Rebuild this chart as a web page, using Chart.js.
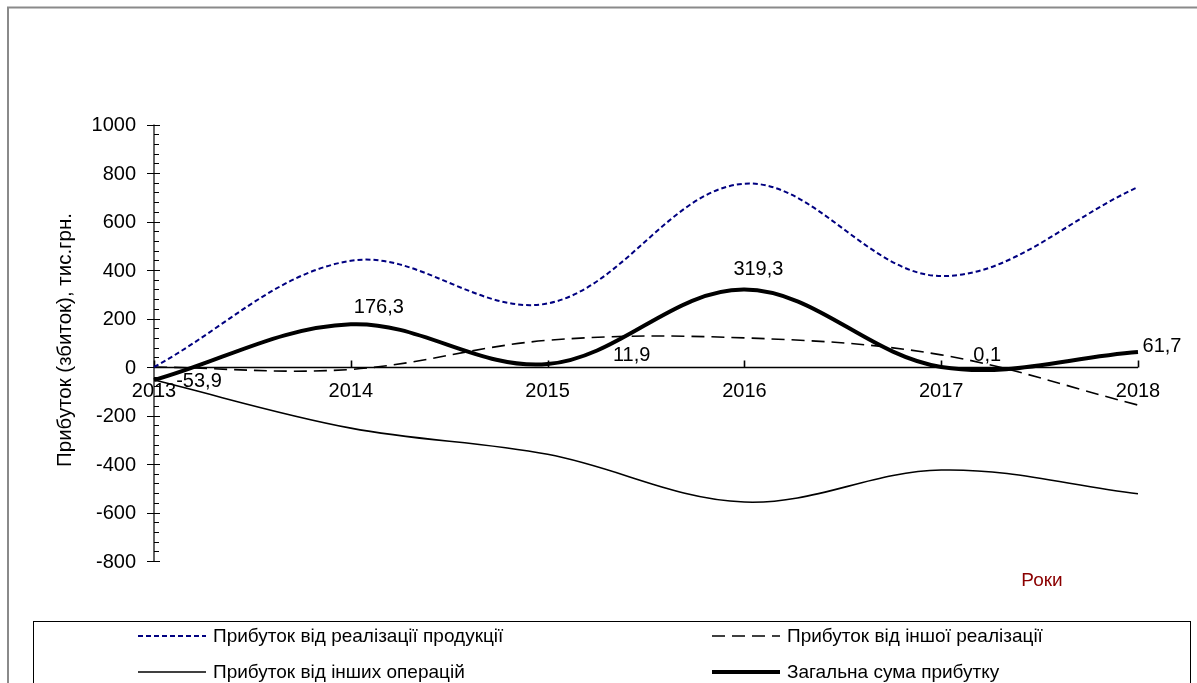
<!DOCTYPE html>
<html>
<head>
<meta charset="utf-8">
<script src="https://cdn.jsdelivr.net/npm/chart.js@4/dist/chart.umd.min.js"></script>
<style>
  html, body { margin: 0; padding: 0; background: #fff; }
  #wrap { width: 1197px; height: 683px; position: relative; }
</style>
</head>
<body>
<div id="wrap"><canvas id="c" width="1197" height="683"></canvas></div>
<script>
// Роки
const years = ['2013', '2014', '2015', '2016', '2017', '2018'];

// Прибуток за джерелами, тис. грн.
const salesProfit = [0, 438, 262, 756, 375, 742];
const otherSalesProfit = [0, -10, 110, 120, 50, -157];
const otherOpsProfit = [-53.9, -252, -360, -557, -425, -523];
const totalProfit = [-53.9, 176.3, 11.9, 319.3, 0.1, 61.7];

// Шкала осі Y
const yMin = -800, yMax = 1000, yStep = 200;

// Зсув підписів значень загальної суми відносно точок (px)
const labelShift = [[45, 1], [28, -17], [84, -9], [14, -20], [46, -11], [24, -6]];

const FONT = '"Liberation Sans", Arial, sans-serif';
const fmt = v => String(v).replace('.', ',');

const seriesStyle = [
  { color: '#000080', width: 2, dash: [5, 3] },
  { color: '#000000', width: 1.6, dash: [13, 7] },
  { color: '#000000', width: 1.6, dash: [] },
  { color: '#000000', width: 4, dash: [] }
];

const decor = {
  id: 'decor',
  beforeDatasetsDraw(chart) {
    const ctx = chart.ctx;
    const y = chart.scales.y, x = chart.scales.x;
    const a = chart.chartArea;
    ctx.save();

    // зовнішня рамка
    ctx.strokeStyle = '#8a8a8a';
    ctx.lineWidth = 2;
    ctx.beginPath();
    ctx.moveTo(8, 690); ctx.lineTo(8, 7.5); ctx.lineTo(1200, 7.5);
    ctx.stroke();

    // вісь Y
    ctx.strokeStyle = '#000';
    ctx.lineWidth = 1.2;
    ctx.beginPath();
    ctx.moveTo(a.left, a.top); ctx.lineTo(a.left, a.bottom);
    for (let v = yMin; v <= yMax; v += yStep / 5) {
      const py = Math.round(y.getPixelForValue(v)) + 0.5;
      if ((v - yMin) % yStep === 0) {
        ctx.moveTo(a.left - 7, py); ctx.lineTo(a.left + 6, py);
      } else {
        ctx.moveTo(a.left, py); ctx.lineTo(a.left + 5, py);
      }
    }
    ctx.stroke();

    ctx.fillStyle = '#000';
    ctx.font = '20px ' + FONT;
    ctx.textAlign = 'right';
    ctx.textBaseline = 'middle';
    for (let v = yMin; v <= yMax; v += yStep) {
      ctx.fillText(String(v), a.left - 18, y.getPixelForValue(v) + 1);
    }

    // вісь X на рівні нуля
    const y0 = Math.round(y.getPixelForValue(0)) + 0.5;
    ctx.lineWidth = 1.6;
    ctx.beginPath();
    ctx.moveTo(a.left, y0); ctx.lineTo(a.right, y0);
    years.forEach((yr, i) => {
      const px = Math.round(x.getPixelForValue(i)) + 0.5;
      ctx.moveTo(px, y0); ctx.lineTo(px, y0 - 7);
    });
    ctx.stroke();

    ctx.textAlign = 'center';
    years.forEach((yr, i) => {
      ctx.fillText(yr, x.getPixelForValue(i), y0 + 24);
    });

    // назва осі Y
    ctx.save();
    ctx.translate(65, 340);
    ctx.rotate(-Math.PI / 2);
    ctx.font = '20.5px ' + FONT;
    ctx.fillText('Прибуток (збиток), тис.грн.', 0, 0);
    ctx.restore();

    // назва осі X
    ctx.fillStyle = '#8b0000';
    ctx.font = '19px ' + FONT;
    ctx.fillText('Роки', 1042, 581);
    ctx.restore();
  },
  afterDatasetsDraw(chart) {
    const ctx = chart.ctx;
    const meta = chart.getDatasetMeta(3);
    ctx.save();
    ctx.fillStyle = '#000';
    ctx.font = '20px ' + FONT;
    ctx.textAlign = 'center';
    ctx.textBaseline = 'middle';
    meta.data.forEach((pt, i) => {
      const s = labelShift[i];
      ctx.fillText(fmt(totalProfit[i]), pt.x + s[0], pt.y + s[1]);
    });

    // легенда
    ctx.strokeStyle = '#000';
    ctx.lineWidth = 1;
    ctx.strokeRect(33.5, 621.5, 1157, 80);
    const slots = [[138, 636], [712, 636], [138, 672], [712, 672]];
    ctx.font = '19px ' + FONT;
    ctx.textAlign = 'left';
    chart.data.datasets.forEach((ds, di) => {
      const st = seriesStyle[di];
      const [sx, sy] = slots[di];
      ctx.save();
      ctx.strokeStyle = st.color;
      ctx.lineWidth = st.width;
      ctx.setLineDash(st.dash);
      ctx.beginPath();
      ctx.moveTo(sx, sy); ctx.lineTo(sx + 68, sy);
      ctx.stroke();
      ctx.restore();
      ctx.fillStyle = '#000';
      ctx.fillText(ds.label, sx + 75, sy + 1);
    });
    ctx.restore();
  }
};

const labels = ['Прибуток від реалізації продукції', 'Прибуток від іншої реалізації',
                'Прибуток від інших операцій', 'Загальна сума прибутку'];
const values = [salesProfit, otherSalesProfit, otherOpsProfit, totalProfit];

new Chart(document.getElementById('c'), {
  type: 'line',
  data: {
    labels: years,
    datasets: values.map((arr, i) => ({
      label: labels[i],
      data: arr,
      borderColor: seriesStyle[i].color,
      borderWidth: seriesStyle[i].width,
      borderDash: seriesStyle[i].dash,
      borderCapStyle: 'butt',
      pointRadius: 0,
      tension: 0.36,
      fill: false
    }))
  },
  options: {
    responsive: false,
    animation: false,
    devicePixelRatio: 1,
    layout: { padding: { left: 154, right: 59, top: 124.5, bottom: 122 } },
    plugins: { legend: { display: false }, tooltip: { enabled: false } },
    scales: {
      x: { display: false, offset: false },
      y: { display: false, min: yMin, max: yMax }
    }
  },
  plugins: [decor]
});
</script>
</body>
</html>
